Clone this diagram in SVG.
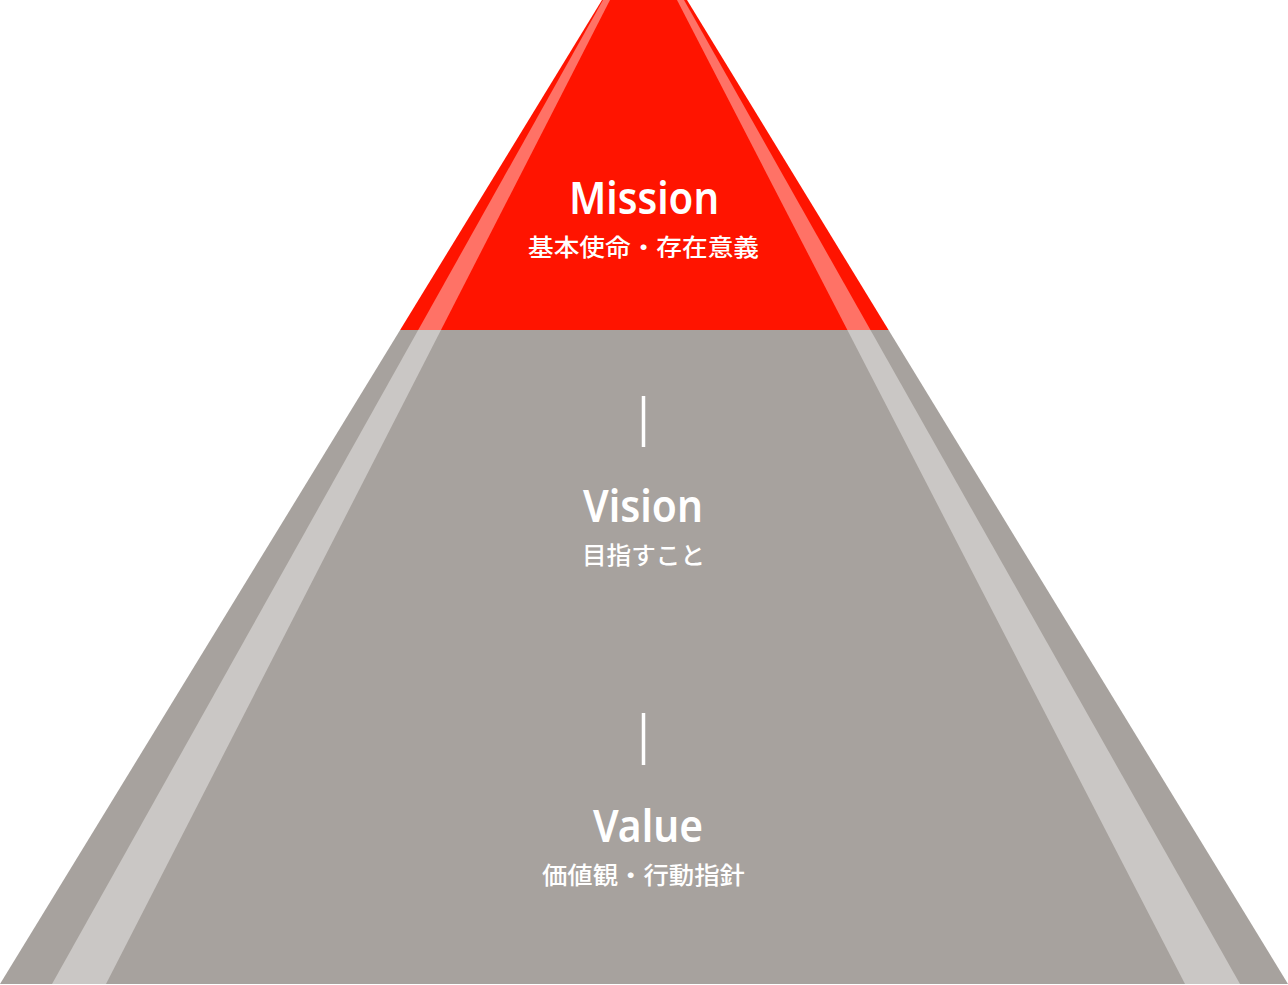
<svg xmlns="http://www.w3.org/2000/svg" width="1288" height="985" viewBox="0 0 1288 985">
<style>
.t{font-family:"Noto Sans","Liberation Sans",sans-serif;font-weight:600;fill:#ffffff;text-anchor:middle}
.j{font-family:"Noto Sans CJK JP","Noto Sans",sans-serif;font-weight:500;fill:#ffffff;text-anchor:middle}
.stripe{fill:#ffffff;fill-opacity:0.4}
.sep{stroke:#ffffff;stroke-width:3.5}
</style>
<defs>
<clipPath id="pyr"><polygon points="602,0 687,0 1288,984 0,984"/></clipPath>
</defs>
<rect width="1288" height="985" fill="#ffffff"/>
<g id="pyramid">
<g clip-path="url(#pyr)">
<rect id="value-vision-layer" x="0" y="330" width="1288" height="655" fill="#a7a29e"/>
<rect id="mission-layer" x="0" y="0" width="1288" height="330" fill="#ff1400"/>
<polygon class="stripe" points="603,0 610,0 106,984 52,984"/>
<polygon class="stripe" points="677,0 684,0 1240,984 1185,984"/>
</g>
</g>
<g id="mission">
<text class="t" x="644" y="214" font-size="45" textLength="150" lengthAdjust="spacingAndGlyphs">Mission</text>
<text class="j" x="643.5" y="256" font-size="24" textLength="231" lengthAdjust="spacingAndGlyphs">基本使命・存在意義</text>
</g>
<g id="vision">
<text class="t" x="643" y="522" font-size="45" textLength="120" lengthAdjust="spacingAndGlyphs">Vision</text>
<text class="j" x="643.5" y="564" font-size="24" textLength="123" lengthAdjust="spacingAndGlyphs">目指すこと</text>
</g>
<g id="value">
<text class="t" x="648" y="842" font-size="45" textLength="110" lengthAdjust="spacingAndGlyphs">Value</text>
<text class="j" x="643.5" y="884" font-size="24" textLength="203" lengthAdjust="spacingAndGlyphs">価値観・行動指針</text>
</g>
<g id="connectors">
<line class="sep" x1="643.5" y1="396" x2="643.5" y2="447"/>
<line class="sep" x1="643.5" y1="713" x2="643.5" y2="765"/>
</g>
</svg>
